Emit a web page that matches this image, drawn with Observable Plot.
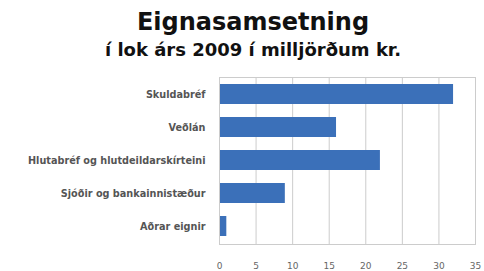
<!DOCTYPE html>
<html>
<head>
<meta charset="utf-8">
<script src="https://cdn.jsdelivr.net/npm/d3@7"></script>
<script src="https://cdn.jsdelivr.net/npm/@observablehq/plot@0.6"></script>
<style>
  body { margin: 0; background: #fff; }
  #wrap { width: 484px; height: 271px; position: relative; overflow: hidden; font-family: "DejaVu Sans", sans-serif; }
  #title { position: absolute; left: 22px; width: 462px; top: 8px; text-align: center; font-weight: bold; font-size: 24px; color: #111; line-height: 28px; }
  #subtitle { position: absolute; left: 22px; width: 462px; top: 38px; text-align: center; font-weight: bold; font-size: 18px; color: #111; line-height: 24px; }
  #chart { position: absolute; left: 0; top: 70px; }
</style>
</head>
<body>
<div id="wrap">
  <div id="title">Eignasamsetning</div>
  <div id="subtitle">í lok árs 2009 í milljörðum kr.</div>
  <div id="chart"></div>
</div>
<script>
const categories = ["Skuldabréf", "Veðlán", "Hlutabréf og hlutdeildarskírteini", "Sjóðir og bankainnistæður", "Aðrar eignir"];
const values = [32, 16, 22, 9, 1];
const xTicks = [0, 5, 10, 15, 20, 25, 30, 35];

const data = categories.map((c, i) => ({category: c, value: values[i]}));

const chart = Plot.plot({
  width: 484,
  height: 201,
  marginLeft: 219,
  marginRight: 9,
  marginTop: 7,
  marginBottom: 27,
  style: { fontFamily: "DejaVu Sans, sans-serif", fontSize: "9px", color: "#555", background: "transparent" },
  x: { domain: [0, 35], ticks: xTicks, label: null },
  y: { domain: categories, label: null, paddingInner: 0.38, paddingOuter: 0.19 },
  marks: [
    Plot.gridX(xTicks, { stroke: "#cccccc", strokeOpacity: 1 }),
    Plot.barX(data, { x: "value", y: "category", fill: "#3b70b9" }),
    Plot.frame({ stroke: "#cccccc" }),
    Plot.axisX({ ticks: xTicks, tickSize: 0, tickPadding: 18, label: null, fontSize: 9, fill: "#666" }),
    Plot.axisY({ tickSize: 0, tickPadding: 14, label: null, fontSize: 9.7, fontWeight: "bold", fill: "#555" })
  ]
});
document.getElementById("chart").appendChild(chart);
</script>
</body>
</html>
